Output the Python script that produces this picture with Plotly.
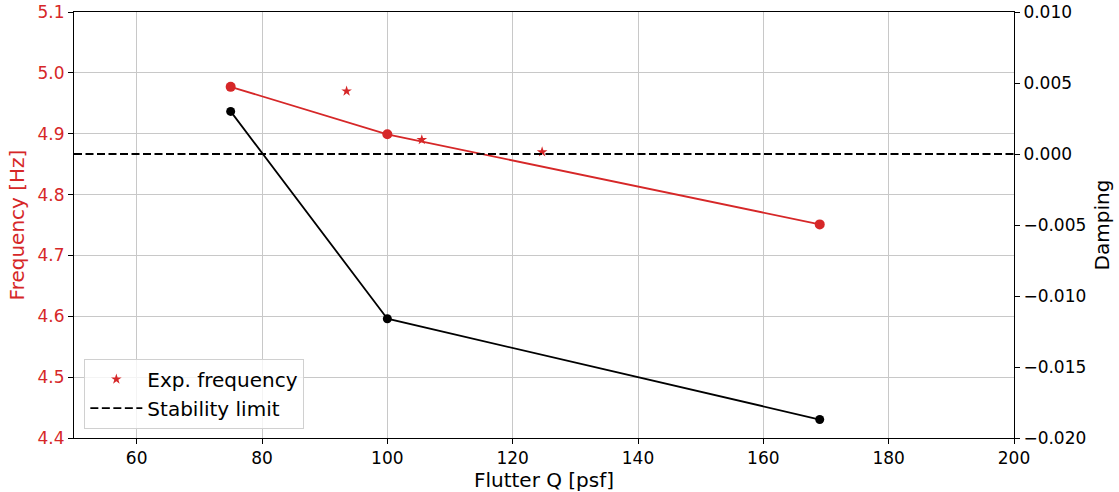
import plotly.graph_objects as go

# Data
q_model = [75, 100, 169]
freq_model = [4.977, 4.899, 4.751]
damp_model = [0.0030, -0.0116, -0.0187]
q_exp = [93.5, 105.5, 124.7]
freq_exp = [4.970, 4.890, 4.870]
stab_x = [50, 200]
stab_y = [0.0, 0.0]

RED = "#d62728"
FONT = "DejaVu Sans"
GRID = "#c8c8c8"

fig = go.Figure()

fig.add_trace(go.Scatter(x=q_model, y=freq_model, mode="lines+markers",
                         line=dict(color=RED, width=1.8),
                         marker=dict(color=RED, size=10),
                         showlegend=False, yaxis="y"))
fig.add_trace(go.Scatter(x=q_exp, y=freq_exp, mode="markers",
                         marker=dict(color=RED, size=8, symbol="star"),
                         name="Exp. frequency", yaxis="y"))
fig.add_trace(go.Scatter(x=q_model, y=damp_model, mode="lines+markers",
                         line=dict(color="black", width=1.8),
                         marker=dict(color="black", size=9),
                         showlegend=False, yaxis="y2"))
fig.add_trace(go.Scatter(x=stab_x, y=stab_y, mode="lines",
                         line=dict(color="black", width=1.8, dash="8px,3.5px"),
                         name="Stability limit", yaxis="y2"))

fig.update_layout(
    width=1119, height=492,
    margin=dict(l=74, r=105, t=12, b=54),
    plot_bgcolor="white", paper_bgcolor="white",
    font=dict(family=FONT, size=17, color="black"),
    xaxis=dict(range=[50, 200], tickvals=[60, 80, 100, 120, 140, 160, 180, 200],
               automargin=False,
               showgrid=True, gridcolor=GRID, gridwidth=1,
               showline=True, linecolor="black", linewidth=1, mirror=True,
               ticks="outside", ticklen=5, tickcolor="black",
               zeroline=False,
               title=dict(text="Flutter Q [psf]", font=dict(size=20), standoff=2)),
    yaxis=dict(range=[4.4, 5.1], tickvals=[4.4, 4.5, 4.6, 4.7, 4.8, 4.9, 5.0, 5.1],
               automargin=False,
               tickformat=".1f", tickfont=dict(color=RED),
               showgrid=True, gridcolor=GRID, gridwidth=1,
               showline=True, linecolor="black", linewidth=1,
               ticks="outside", ticklen=5, tickcolor="black",
               zeroline=False,
               title=dict(text="Frequency [Hz]", font=dict(size=20, color=RED), standoff=7)),
    yaxis2=dict(range=[-0.020, 0.010], overlaying="y", side="right",
                automargin=False,
                tickvals=[-0.020, -0.015, -0.010, -0.005, 0.0, 0.005, 0.010],
                tickformat=".3f", showgrid=False, zeroline=False,
                showline=True, linecolor="black", linewidth=1,
                ticks="outside", ticklen=5, tickcolor="black",
                title=dict(text="Damping", font=dict(size=20), standoff=9)),
    legend=dict(x=0.011, y=0.022, xanchor="left", yanchor="bottom",
                bgcolor="rgba(255,255,255,0.8)", bordercolor="#d0d0d0", borderwidth=1,
                font=dict(size=20), itemwidth=52),
)

fig.write_html("out.html", config={"displayModeBar": False},
               post_script="document.body.style.margin='0';")
